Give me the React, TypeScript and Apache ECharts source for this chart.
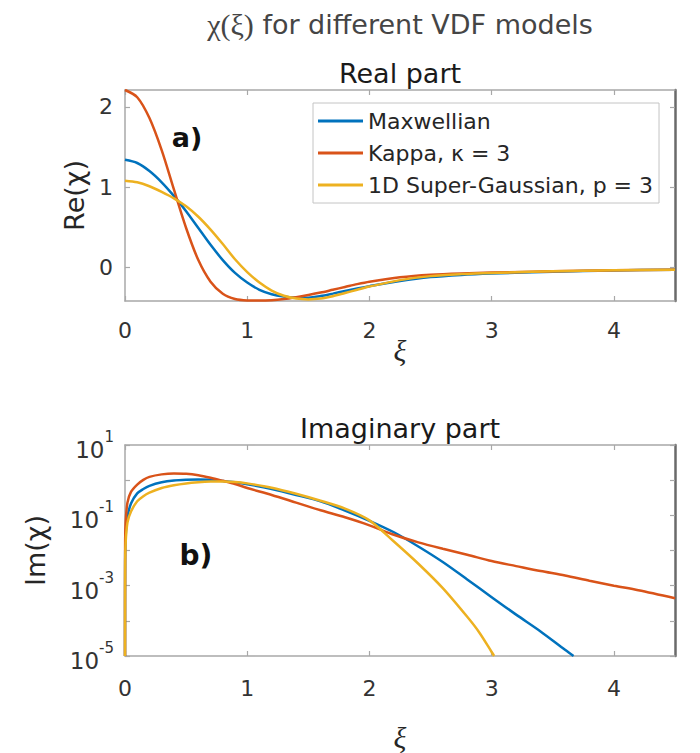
import React, { useEffect, useRef } from "react";
import * as echarts from "echarts";

const SERIES_NAMES = ["Maxwellian", "Kappa, κ = 3", "1D Super-Gaussian, p = 3"];
const COLORS = ["#0072BD", "#D95319", "#EDB120"];

const X_TICKS = [0, 1, 2, 3, 4];
const RE_Y_TICKS = [0, 1, 2];

// Real part
const XI_RE = [0, 0.1, 0.2, 0.3, 0.4, 0.5, 0.6, 0.7, 0.8, 0.9, 1.0, 1.1, 1.2, 1.3, 1.4, 1.5, 1.6, 1.7, 1.8, 1.9, 2.0, 2.25, 2.5, 2.75, 3.0, 3.5, 4.0, 4.5];
const RE_MAXWELLIAN = [1.34, 1.3, 1.2, 1.06, 0.89, 0.7, 0.49, 0.28, 0.09, -0.07, -0.19, -0.28, -0.335, -0.365, -0.38, -0.378, -0.358, -0.328, -0.296, -0.265, -0.235, -0.17, -0.122, -0.095, -0.078, -0.054, -0.039, -0.03];
const RE_KAPPA = [2.21, 2.12, 1.86, 1.46, 0.97, 0.49, 0.09, -0.18, -0.33, -0.395, -0.413, -0.415, -0.41, -0.395, -0.372, -0.345, -0.315, -0.28, -0.245, -0.21, -0.18, -0.125, -0.093, -0.076, -0.066, -0.05, -0.038, -0.03];
const RE_SUPERGAUSS = [1.08, 1.06, 1.01, 0.94, 0.86, 0.76, 0.63, 0.47, 0.29, 0.1, -0.06, -0.19, -0.29, -0.355, -0.39, -0.4, -0.39, -0.36, -0.32, -0.28, -0.24, -0.16, -0.11, -0.085, -0.07, -0.05, -0.038, -0.03];

// Imaginary part
const XI_IM_MAXWELLIAN = [0, 0.001, 0.005, 0.02, 0.05, 0.1, 0.15, 0.2, 0.3, 0.4, 0.5, 0.6, 0.7, 0.8, 0.9, 1.0, 1.2, 1.4, 1.6, 1.8, 2.0, 2.2, 2.4, 2.6, 2.8, 3.0, 3.2, 3.4, 3.6, 3.67];
const IM_MAXWELLIAN = [1e-5, 0.005, 0.025, 0.09, 0.22, 0.42, 0.56, 0.69, 0.87, 0.98, 1.03, 1.05, 1.02, 0.95, 0.87, 0.77, 0.56, 0.38, 0.25, 0.137, 0.07, 0.033, 0.013, 0.0047, 0.0015, 0.00047, 0.00015, 0.00005, 0.000015, 0.00001];
const XI_IM_KAPPA = [0, 0.001, 0.005, 0.02, 0.05, 0.1, 0.15, 0.2, 0.3, 0.4, 0.5, 0.6, 0.7, 0.8, 0.9, 1.0, 1.2, 1.4, 1.6, 1.8, 2.0, 2.2, 2.4, 2.6, 2.8, 3.0, 3.2, 3.4, 3.6, 3.8, 4.0, 4.2, 4.5];
const IM_KAPPA = [1e-5, 0.012, 0.06, 0.23, 0.47, 0.75, 1.02, 1.24, 1.46, 1.55, 1.52, 1.38, 1.17, 0.96, 0.78, 0.6, 0.38, 0.23, 0.139, 0.088, 0.052, 0.028, 0.017, 0.0112, 0.0076, 0.005, 0.0036, 0.0026, 0.00195, 0.00138, 0.001, 0.00074, 0.00044];
const XI_IM_SUPERGAUSS = [0, 0.001, 0.005, 0.02, 0.05, 0.1, 0.15, 0.2, 0.3, 0.4, 0.5, 0.6, 0.7, 0.8, 0.9, 1.0, 1.2, 1.4, 1.6, 1.8, 2.0, 2.2, 2.4, 2.6, 2.8, 2.9, 3.0, 3.02];
const IM_SUPERGAUSS = [1e-5, 0.003, 0.016, 0.062, 0.13, 0.25, 0.35, 0.44, 0.6, 0.72, 0.81, 0.87, 0.91, 0.92, 0.89, 0.81, 0.61, 0.41, 0.26, 0.155, 0.072, 0.018, 0.0042, 0.00085, 0.00013, 0.000046, 0.000013, 0.00001];

const FONT = "DejaVu Sans";
const SERIF = "Liberation Serif";
const AXIS_GRAY = "#a8a8a8";
const TEXT_GRAY = "#333333";

function pairs(xs: number[], ys: number[]) {
  return xs.map((x, i) => [x, ys[i]]);
}

function xAxis(gridIndex: number, position: "top" | "bottom", showLabel: boolean, nameGap: number, margin: number) {
  return {
    type: "value",
    gridIndex,
    position,
    min: 0,
    max: 4.5,
    axisLine: { show: true, onZero: false, lineStyle: { color: AXIS_GRAY, width: 1.5 } },
    axisTick: { show: true, inside: true, length: 5, customValues: X_TICKS, lineStyle: { color: AXIS_GRAY, width: 1.2 } },
    axisLabel: { show: showLabel, customValues: X_TICKS, margin, fontSize: 22, fontFamily: FONT, color: TEXT_GRAY },
    splitLine: { show: false },
    name: showLabel ? "ξ" : "",
    nameLocation: "middle",
    nameGap,
    nameMoveOverlap: false,
    nameTextStyle: { fontFamily: SERIF, fontStyle: "italic", fontSize: 30, color: "#262626" },
  };
}

export default function App() {
  const ref = useRef<HTMLDivElement>(null);

  useEffect(() => {
    if (!ref.current) return;
    const chart = echarts.init(ref.current, undefined, { renderer: "svg" });

    const lineSeries = (name: string, color: string, data: number[][], xi: number, yi: number) => ({
      type: "line",
      name,
      xAxisIndex: xi,
      yAxisIndex: yi,
      data,
      symbol: "none",
      showSymbol: false,
      smooth: 0.3,
      clip: true,
      lineStyle: { width: 2.5, color },
      itemStyle: { color },
    });

    const option: any = {
      animation: false,
      backgroundColor: "#ffffff",
      title: [
        {
          text: "{s|χ(ξ)} for different VDF models",
          left: 400,
          top: 9,
          textAlign: "center",
          padding: 0,
          textStyle: {
            fontFamily: FONT,
            fontSize: 27,
            fontWeight: "normal",
            color: "#454545",
            rich: { s: { fontFamily: SERIF, fontSize: 30, color: "#454545" } },
          },
        },
        {
          text: "Real part",
          left: 400,
          top: 60,
          textAlign: "center",
          padding: 0,
          textStyle: { fontFamily: FONT, fontSize: 27, fontWeight: "normal", color: "#1a1a1a" },
        },
        {
          text: "Imaginary part",
          left: 400,
          top: 415,
          textAlign: "center",
          padding: 0,
          textStyle: { fontFamily: FONT, fontSize: 27, fontWeight: "normal", color: "#1a1a1a" },
        },
      ],
      legend: {
        data: SERIES_NAMES,
        orient: "vertical",
        left: 313,
        top: 103,
        padding: [6, 6, 6, 5],
        icon: "rect",
        itemWidth: 45,
        itemHeight: 3,
        itemGap: 8,
        backgroundColor: "#ffffff",
        borderColor: "#c4c4c4",
        borderWidth: 1,
        selectedMode: false,
        textStyle: { fontFamily: FONT, fontSize: 22, color: "#262626", lineHeight: 24 },
      },
      grid: [
        { left: 125, top: 90, width: 550, height: 211 },
        { left: 125, top: 445, width: 550, height: 211 },
      ],
      xAxis: [
        xAxis(0, "bottom", true, 34, 18),
        xAxis(0, "top", false, 0, 8),
        xAxis(1, "bottom", true, 66, 21),
        xAxis(1, "top", false, 0, 8),
      ],
      yAxis: [
        {
          type: "value",
          gridIndex: 0,
          position: "left",
          min: -0.42,
          max: 2.21,
          axisLine: { show: true, onZero: false, lineStyle: { color: AXIS_GRAY, width: 1.5 } },
          axisTick: { show: true, inside: true, length: 5, customValues: RE_Y_TICKS, lineStyle: { color: AXIS_GRAY, width: 1.2 } },
          axisLabel: { customValues: RE_Y_TICKS, margin: 12, fontSize: 22, fontFamily: FONT, color: TEXT_GRAY },
          splitLine: { show: false },
          name: "Re(χ)",
          nameLocation: "middle",
          nameRotate: 90,
          nameGap: 36,
          nameTextStyle: { fontFamily: FONT, fontSize: 27, color: "#262626" },
        },
        {
          type: "value",
          gridIndex: 0,
          position: "right",
          min: -0.42,
          max: 2.21,
          axisLine: { show: true, onZero: false, lineStyle: { color: "#6a6a6a", width: 2.5 } },
          axisTick: { show: true, inside: true, length: 5, customValues: RE_Y_TICKS, lineStyle: { color: AXIS_GRAY, width: 1.2 } },
          axisLabel: { show: false },
          splitLine: { show: false },
        },
        {
          type: "log",
          logBase: 10,
          gridIndex: 1,
          position: "left",
          min: 1e-5,
          max: 10,
          axisLine: { show: true, onZero: false, lineStyle: { color: AXIS_GRAY, width: 1.5 } },
          axisTick: { show: true, inside: true, length: 5, lineStyle: { color: AXIS_GRAY, width: 1.2 } },
          axisLabel: {
            margin: 11,
            fontFamily: FONT,
            color: TEXT_GRAY,
            formatter: (v: number) => {
              const e = Math.round(Math.log10(v));
              if (e % 2 === 0) return "";
              return `{b|10}{s|${e}}`;
            },
            rich: {
              b: { fontFamily: FONT, fontSize: 23, color: TEXT_GRAY, padding: [10, 0, 0, 0] },
              s: { fontFamily: FONT, fontSize: 15, color: TEXT_GRAY, padding: [0, 0, 16, 0] },
            },
          },
          splitLine: { show: false },
          name: "Im(χ)",
          nameLocation: "middle",
          nameRotate: 90,
          nameGap: 76,
          nameTextStyle: { fontFamily: FONT, fontSize: 27, color: "#262626" },
        },
        {
          type: "log",
          logBase: 10,
          gridIndex: 1,
          position: "right",
          min: 1e-5,
          max: 10,
          axisLine: { show: true, onZero: false, lineStyle: { color: "#6a6a6a", width: 2.5 } },
          axisTick: { show: true, inside: true, length: 5, lineStyle: { color: AXIS_GRAY, width: 1.2 } },
          axisLabel: { show: false },
          splitLine: { show: false },
        },
      ],
      graphic: [
        {
          type: "text",
          x: 187,
          y: 137,
          style: { text: "a)", font: `bold 27px "${FONT}"`, fill: "#111111", align: "center", verticalAlign: "middle", textAlign: "center", textVerticalAlign: "middle" },
        },
        {
          type: "text",
          x: 196,
          y: 555,
          style: { text: "b)", font: `bold 28px "${FONT}"`, fill: "#111111", align: "center", verticalAlign: "middle", textAlign: "center", textVerticalAlign: "middle" },
        },
      ],
      series: [
        lineSeries(SERIES_NAMES[0], COLORS[0], pairs(XI_RE, RE_MAXWELLIAN), 0, 0),
        lineSeries(SERIES_NAMES[1], COLORS[1], pairs(XI_RE, RE_KAPPA), 0, 0),
        lineSeries(SERIES_NAMES[2], COLORS[2], pairs(XI_RE, RE_SUPERGAUSS), 0, 0),
        lineSeries(SERIES_NAMES[0], COLORS[0], pairs(XI_IM_MAXWELLIAN, IM_MAXWELLIAN), 2, 2),
        lineSeries(SERIES_NAMES[1], COLORS[1], pairs(XI_IM_KAPPA, IM_KAPPA), 2, 2),
        lineSeries(SERIES_NAMES[2], COLORS[2], pairs(XI_IM_SUPERGAUSS, IM_SUPERGAUSS), 2, 2),
      ],
    };

    chart.setOption(option);
    return () => {
      chart.dispose();
    };
  }, []);

  return <div ref={ref} style={{ position: "absolute", left: 0, top: 0, width: 700, height: 753 }} />;
}
